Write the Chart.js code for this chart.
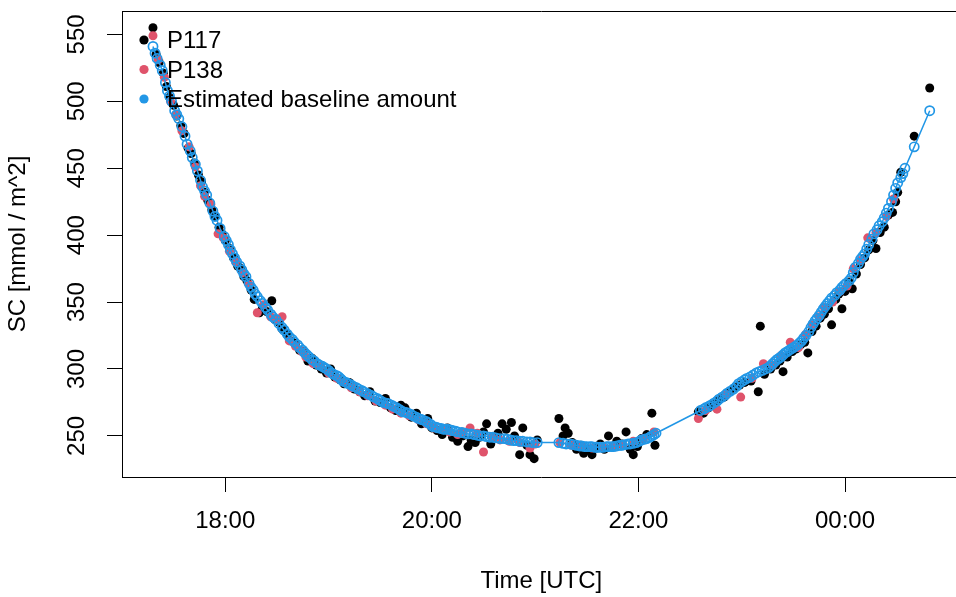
<!DOCTYPE html>
<html>
<head>
<meta charset="utf-8">
<script src="https://cdn.jsdelivr.net/npm/chart.js@4.4.0/dist/chart.umd.min.js"></script>
<style>
  html, body { margin: 0; padding: 0; background: #fff; overflow: hidden; }
  /* the original plot box runs a little past the right edge of the picture */
  #wrap { width: 956px; height: 597px; overflow: hidden; }
</style>
</head>
<body>
<div id="wrap"><canvas id="sc-chart" width="967" height="597"></canvas></div>
<script>
// times are decimal hours since 00:00 of the first day (24.5 = 00:30 next day)
const BASE_TIME = [17.30, 17.32, 17.34, 17.37, 17.39, 17.42, 17.44, 17.46, 17.48, 17.51, 17.53, 17.55, 17.58, 17.61, 17.63, 17.66, 17.68, 17.71, 17.73, 17.76,
  17.78, 17.80, 17.82, 17.85, 17.88, 17.90, 17.92, 17.95, 17.99, 18.01, 18.03, 18.05, 18.07, 18.09, 18.11, 18.14, 18.16, 18.18, 18.20, 18.23,
  18.25, 18.27, 18.29, 18.31, 18.34, 18.36, 18.39, 18.41, 18.44, 18.46, 18.49, 18.52, 18.55, 18.57, 18.60, 18.62, 18.65, 18.67, 18.70, 18.72,
  18.75, 18.77, 18.79, 18.81, 18.84, 18.86, 18.89, 18.91, 18.94, 18.96, 18.98, 19.00, 19.03, 19.05, 19.08, 19.10, 19.12, 19.14, 19.17, 19.19,
  19.22, 19.24, 19.27, 19.29, 19.32, 19.34, 19.37, 19.39, 19.42, 19.44, 19.47, 19.49, 19.51, 19.53, 19.56, 19.58, 19.61, 19.63, 19.66, 19.68,
  19.70, 19.72, 19.75, 19.77, 19.80, 19.82, 19.85, 19.87, 19.89, 19.91, 19.94, 19.96, 19.99, 20.01, 20.04, 20.06, 20.09, 20.11, 20.13, 20.15,
  20.18, 20.20, 20.23, 20.25, 20.29, 20.32, 20.35, 20.38, 20.41, 20.44, 20.47, 20.50, 20.53, 20.56, 20.59, 20.62, 20.66, 20.70, 20.73, 20.76,
  20.79, 20.82, 20.85, 20.88, 20.92, 20.95, 20.98, 21.02, 21.23, 21.27, 21.30, 21.34, 21.37, 21.40, 21.43, 21.45, 21.48, 21.50, 21.53, 21.55,
  21.58, 21.60, 21.63, 21.66, 21.69, 21.71, 21.74, 21.76, 21.79, 21.82, 21.84, 21.87, 21.90, 21.92, 21.95, 21.98, 22.01, 22.03, 22.06, 22.08,
  22.11, 22.13, 22.15, 22.17, 22.60, 22.63, 22.65, 22.68, 22.70, 22.73, 22.76, 22.78, 22.81, 22.84, 22.86, 22.89, 22.92, 22.95, 22.97, 23.00,
  23.03, 23.05, 23.08, 23.11, 23.14, 23.17, 23.20, 23.23, 23.26, 23.28, 23.30, 23.32, 23.34, 23.36, 23.38, 23.40, 23.42, 23.44, 23.46, 23.48,
  23.50, 23.52, 23.54, 23.56, 23.58, 23.60, 23.62, 23.65, 23.67, 23.69, 23.71, 23.73, 23.75, 23.77, 23.79, 23.81, 23.83, 23.85, 23.87, 23.90,
  23.92, 23.95, 23.97, 23.99, 24.01, 24.04, 24.06, 24.08, 24.10, 24.13, 24.15, 24.17, 24.19, 24.21, 24.23, 24.26, 24.28, 24.31, 24.33, 24.36,
  24.38, 24.40, 24.42, 24.45, 24.47, 24.49, 24.51, 24.54, 24.56, 24.58, 24.67, 24.82];
const BASE_SC = [541, 536, 532, 527, 523, 514, 508, 504, 500, 493, 490, 487, 481, 474, 468, 463, 458, 453, 448, 441,
  436, 433, 430, 424, 418, 414, 411, 405, 399, 396, 393, 389, 386, 383, 380, 377, 374, 371, 369, 364,
  361, 359, 356, 354, 351, 349, 346, 344, 341, 339, 337, 334, 331, 329, 326, 324, 322, 320, 318, 316,
  314, 312, 310.5, 309, 307, 306, 304, 303, 302, 301, 300, 299, 297, 296, 295, 294, 292.5, 291, 290, 289,
  288, 287, 286, 285, 284, 283, 282, 281, 280, 279, 278, 277, 276, 275, 274.5, 274, 273, 272, 271, 270,
  269, 268, 267.5, 267, 266, 265, 264, 263, 262.5, 262, 261, 260, 258.5, 257, 256.5, 256, 255.5, 255, 255, 255,
  254.5, 254, 253.5, 253, 252.5, 252, 251.5, 251.5, 251, 250.5, 250, 250, 249.5, 249, 249, 248.5, 248, 248, 247.5, 247,
  246.5, 246.5, 246, 246, 245.5, 245.5, 245, 245, 245, 244.5, 244, 244, 243.5, 243, 242.5, 242.5, 242, 242, 242, 242,
  241.5, 241.5, 241.5, 241.5, 242, 242, 242, 242, 242.5, 243, 243, 243.5, 244, 244, 244.5, 245, 246, 247, 247.5, 248,
  249, 250, 251, 252, 269, 270, 271, 272, 273, 274.5, 276, 277.5, 279, 280.5, 282, 283.5, 285, 287, 289, 290.5,
  292, 293, 294, 295.5, 297, 298, 299, 300, 301, 302.5, 304, 305.5, 307, 308, 309, 310.5, 312, 313, 314, 315,
  316, 317, 318, 319.5, 321, 323, 325, 328, 331, 333.5, 336, 338, 340, 342.5, 345, 347, 349, 351, 353, 355,
  357, 359, 361, 362.5, 364, 366, 368, 372, 376, 379, 382, 384, 386, 389.5, 393, 397, 401, 404, 407, 410,
  413, 416.5, 420, 425, 430, 435, 439, 443, 446, 450, 466, 493];

const P117_TIME = [17.30, 17.33, 17.36, 17.40, 17.43, 17.46, 17.50, 17.53, 17.57, 17.60, 17.64, 17.67, 17.70, 17.74, 17.77, 17.80, 17.83, 17.87, 17.90, 17.94,
  17.97, 18.00, 18.04, 18.08, 18.12, 18.15, 18.18, 18.21, 18.25, 18.28, 18.33, 18.36, 18.40, 18.45, 18.48, 18.52, 18.55, 18.60, 18.64, 18.68,
  18.72, 18.76, 18.80, 18.84, 18.88, 18.93, 18.98, 19.02, 19.06, 19.11, 19.15, 19.20, 19.25, 19.30, 19.35, 19.40, 19.45, 19.50, 19.55, 19.60,
  19.65, 19.70, 19.74, 19.80, 19.85, 19.90, 19.96, 20.00, 20.05, 20.10, 20.15, 20.20, 20.25, 20.30, 20.35, 20.38, 20.42, 20.46, 20.50, 20.53,
  20.57, 20.60, 20.64, 20.68, 20.72, 20.77, 20.80, 20.85, 20.88, 20.92, 20.95, 20.99, 21.02, 21.23, 21.27, 21.29, 21.32, 21.36, 21.40, 21.44,
  21.47, 21.51, 21.55, 21.59, 21.63, 21.67, 21.71, 21.75, 21.79, 21.84, 21.88, 21.92, 21.95, 21.99, 22.03, 22.08, 22.13, 22.16, 22.58, 22.63,
  22.68, 22.73, 22.78, 22.83, 22.88, 22.93, 22.98, 23.03, 23.09, 23.16, 23.18, 23.22, 23.28, 23.33, 23.37, 23.40, 23.44, 23.49, 23.53, 23.57,
  23.61, 23.64, 23.68, 23.72, 23.76, 23.80, 23.84, 23.87, 23.91, 23.94, 23.97, 24.00, 24.04, 24.07, 24.11, 24.15, 24.19, 24.23, 24.27, 24.30,
  24.34, 24.38, 24.42, 24.46, 24.49, 24.51, 24.54, 24.67, 24.82];
const P117_SC = [555, 535, 529, 521, 511, 503, 497, 489, 482, 476, 465, 461, 454, 445, 440, 432, 426, 419, 414, 406,
  401, 396, 390, 383, 377, 375, 369, 366, 359, 352, 342, 346, 343, 351, 337, 335, 330, 326, 321, 319,
  314, 313, 306, 308, 303, 300, 297, 300, 294, 292, 289, 290, 285, 283, 280, 283, 276, 275, 278, 271,
  269, 273, 271, 264, 267, 259, 263, 256, 254, 251, 256, 249, 246, 250, 242, 247, 245, 249, 253, 259,
  244, 248, 252, 259, 255, 260, 250, 236, 256, 243, 236, 233, 247, 263, 250, 256, 252, 245, 240, 243,
  237, 240, 236, 241, 244, 240, 250, 242, 246, 244, 253, 240, 236, 242, 248, 251, 267, 243, 268, 267,
  271, 274, 277, 279, 283, 286, 288, 290, 291, 283, 332, 296, 300, 303, 306, 298, 309, 313, 315, 318,
  320, 312, 328, 332, 338, 341, 345, 333, 352, 356, 345, 358, 365, 360, 371, 378, 383, 389, 396, 390,
  402, 406, 415, 417, 425, 432, 447, 474, 510];

const P138_TIME = [17.30, 17.35, 17.41, 17.47, 17.52, 17.58, 17.65, 17.71, 17.76, 17.80, 17.86, 17.93, 17.98, 18.04, 18.10, 18.17, 18.23, 18.31, 18.37, 18.44,
  18.50, 18.55, 18.62, 18.68, 18.74, 18.78, 18.85, 18.92, 19.00, 19.08, 19.15, 19.22, 19.30, 19.38, 19.46, 19.55, 19.62, 19.70, 19.78, 19.87,
  19.95, 20.02, 20.10, 20.17, 20.25, 20.30, 20.37, 20.44, 20.50, 20.58, 20.66, 20.75, 20.85, 20.95, 21.00, 21.24, 21.35, 21.45, 21.55, 21.65,
  21.75, 21.85, 21.95, 22.05, 22.15, 22.58, 22.65, 22.76, 22.85, 22.99, 23.10, 23.21, 23.30, 23.38, 23.47, 23.55, 23.62, 23.68, 23.75, 23.80,
  23.88, 23.95, 24.02, 24.08, 24.15, 24.22, 24.30, 24.40, 24.47];
const P138_SC = [549, 531, 518, 500, 490, 478, 466, 451, 437, 429, 423, 401, 398, 388, 380, 372, 363, 342, 348, 339,
  337, 339, 321, 317, 313, 309, 304, 302, 297, 293, 290, 286, 283, 280, 276, 273, 270, 267, 265, 262,
  259, 256, 255, 253, 251, 253, 256, 252, 238, 249, 247, 246, 245, 241, 244, 245, 243, 242, 241, 242,
  242, 243, 246, 248, 253, 263, 269, 270, 281, 279, 293, 304, 303, 310, 320, 316, 326, 333, 339, 346,
  350, 358, 362, 375, 381, 398, 402, 414, 427];

const X_TICKS = [18, 20, 22, 24];
const X_TICK_LABELS = ['18:00', '20:00', '22:00', '00:00'];
const Y_TICKS = [250, 300, 350, 400, 450, 500, 550];

const COLORS = {
  p117: '#000000',
  p138: '#DF536B',
  base: '#2297E6',
};

const FONT = '"Liberation Sans", Arial, sans-serif';
Chart.defaults.font.family = FONT;
Chart.defaults.font.size = 24;
Chart.defaults.color = '#000';

function toPoints(times, values) {
  return times.map((t, i) => ({ x: t, y: values[i] }));
}

// top edge of the box + legend drawn over the points, like R's legend()
const boxAndLegend = {
  id: 'boxAndLegend',
  afterDatasetsDraw(chart) {
    const { ctx, chartArea } = chart;
    ctx.save();
    ctx.strokeStyle = '#000';
    ctx.lineWidth = 1;
    ctx.beginPath();
    ctx.moveTo(chartArea.left, chartArea.top + 0.5);
    ctx.lineTo(chartArea.right, chartArea.top + 0.5);
    ctx.stroke();

    ctx.font = '24px ' + FONT;
    ctx.textBaseline = 'middle';
    ctx.textAlign = 'left';
    chart.data.datasets.forEach((ds, i) => {
      const y = chartArea.top + 29 + i * 29.5;
      ctx.fillStyle = ds.borderColor;
      ctx.beginPath();
      ctx.arc(chartArea.left + 22, y, 4.6, 0, Math.PI * 2);
      ctx.fill();
      ctx.fillStyle = '#000';
      ctx.fillText(ds.label, chartArea.left + 45, y + 1.5);
    });
    ctx.restore();
  }
};

const axisLine = { display: true, color: '#000', width: 1 };
const tickMarks = { display: true, drawOnChartArea: false, drawTicks: true, tickLength: 15, color: '#000', lineWidth: 1 };

function noLabelPadding(s) {
  s.paddingTop = 0;
  s.paddingBottom = 0;
  s.paddingLeft = 0;
  s.paddingRight = 0;
}

new Chart(document.getElementById('sc-chart'), {
  type: 'scatter',
  data: {
    datasets: [
      {
        label: 'P117',
        data: toPoints(P117_TIME, P117_SC),
        backgroundColor: COLORS.p117,
        borderColor: COLORS.p117,
        pointRadius: 4.5,
        pointBorderWidth: 0,
        order: 3,
      },
      {
        label: 'P138',
        data: toPoints(P138_TIME, P138_SC),
        backgroundColor: COLORS.p138,
        borderColor: COLORS.p138,
        pointRadius: 4.5,
        pointBorderWidth: 0,
        order: 2,
      },
      {
        label: 'Estimated baseline amount',
        data: toPoints(BASE_TIME, BASE_SC),
        showLine: true,
        borderColor: COLORS.base,
        borderWidth: 1.5,
        pointRadius: 4.6,
        pointBorderWidth: 1.7,
        pointBackgroundColor: 'rgba(0,0,0,0)',
        order: 1,
      },
    ],
  },
  options: {
    responsive: false,
    animation: false,
    events: [],
    layout: { padding: { top: 11, right: 0, left: 0, bottom: 0 } },
    plugins: {
      legend: { display: false },
      tooltip: { enabled: false },
    },
    scales: {
      x: {
        type: 'linear',
        min: 17.0,
        max: 25.12,
        afterBuildTicks: (s) => { s.ticks = X_TICKS.map((v) => ({ value: v })); },
        afterFit: (s) => { s.height = 120; noLabelPadding(s); },
        grid: tickMarks,
        border: axisLine,
        ticks: {
          padding: 15,
          maxRotation: 0,
          autoSkip: false,
          callback: (v, i) => X_TICK_LABELS[i],
        },
        title: { display: true, text: 'Time [UTC]', padding: { top: 0, bottom: 1.6 } },
      },
      y: {
        type: 'linear',
        min: 219.3,
        max: 567.5,
        afterBuildTicks: (s) => { s.ticks = Y_TICKS.map((v) => ({ value: v })); },
        afterFit: (s) => { s.width = 122; noLabelPadding(s); },
        grid: tickMarks,
        border: axisLine,
        ticks: {
          padding: 10,
          minRotation: 90,
          maxRotation: 90,
          crossAlign: 'center',
          autoSkip: false,
        },
        title: { display: true, text: 'SC [mmol / m^2]', padding: { top: 3.6, bottom: 0 } },
      },
    },
  },
  plugins: [boxAndLegend],
});
</script>
</body>
</html>
